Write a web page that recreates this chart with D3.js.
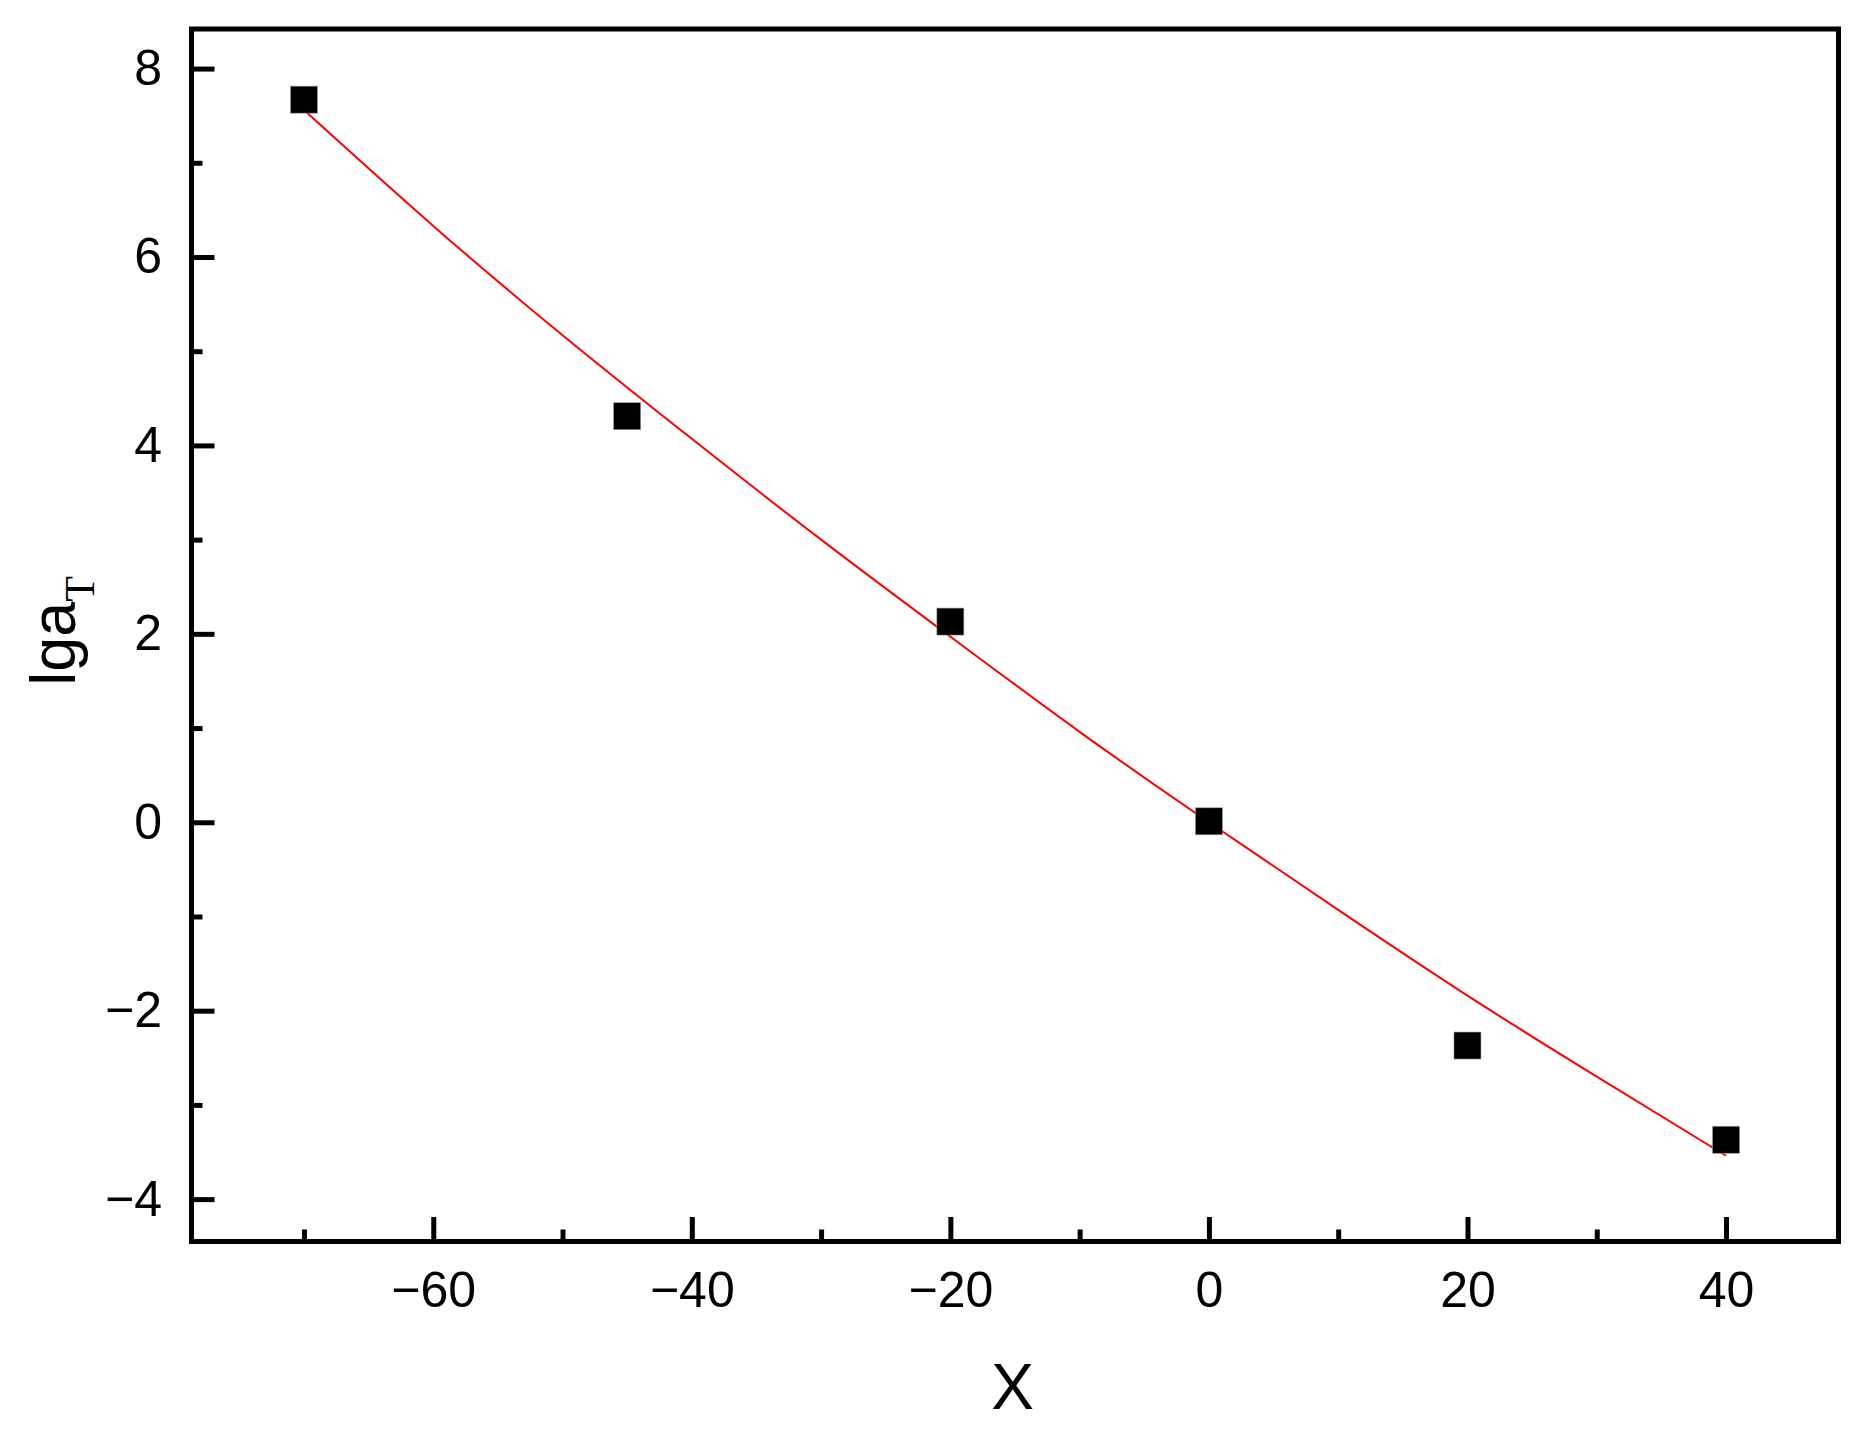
<!DOCTYPE html>
<html>
<head>
<meta charset="utf-8">
<script src="https://cdn.jsdelivr.net/npm/d3@7"></script>
<style>
  html, body { margin: 0; padding: 0; background: #fff; }
  svg { display: block; }
  text { font-family: "Liberation Sans", Arial, sans-serif; fill: #000; }
</style>
</head>
<body>
<svg id="chart" width="1866" height="1433"></svg>
<script>
// measured points
const xValues = [-70, -45, -20, 0, 20, 40];
const lgaT = [7.67, 4.31, 2.13, 0.01, -2.37, -3.37];

// red fitted curve
const fitX = [-70, -60, -50, -40, -30, -20, -10, 0, 10, 20, 30, 40];
const fitY = [7.56, 6.33, 5.17, 4.07, 3.00, 1.97, 0.96, 0, -0.93, -1.84, -2.70, -3.54];

const xTicks = [-60, -40, -20, 0, 20, 40];
const xMinor = [-70, -50, -30, -10, 10, 30];
const yTicks = [-4, -2, 0, 2, 4, 6, 8];
const yMinor = [-3, -1, 1, 3, 5, 7];

const plot = { left: 191.5, right: 1838.5, top: 29, bottom: 1241.5 };

const svg = d3.select("#chart");

const x = d3.scaleLinear().domain([-78.7, 48.7]).range([plot.left, plot.right]);
const y = d3.scaleLinear().domain([-4.45, 8.42]).range([plot.bottom, plot.top]);

const fmt = d => d3.format("d")(d);

// x axis - ticks point inward
svg.append("g")
  .attr("transform", `translate(0,${plot.bottom})`)
  .call(d3.axisBottom(x).tickValues(xTicks).tickSize(-24.5).tickSizeOuter(0).tickPadding(30).tickFormat(fmt));
svg.append("g")
  .attr("transform", `translate(0,${plot.bottom})`)
  .call(d3.axisBottom(x).tickValues(xMinor).tickSize(-12).tickSizeOuter(0).tickFormat(""));

// y axis
svg.append("g")
  .attr("transform", `translate(${plot.left},0)`)
  .call(d3.axisLeft(y).tickValues(yTicks).tickSize(-23).tickSizeOuter(0).tickPadding(29.5).tickFormat(fmt));
svg.append("g")
  .attr("transform", `translate(${plot.left},0)`)
  .call(d3.axisLeft(y).tickValues(yMinor).tickSize(-11).tickSizeOuter(0).tickFormat(""));

svg.selectAll(".domain").remove();
svg.selectAll(".tick line").attr("stroke", "#000").attr("stroke-width", 5);
svg.selectAll(".tick text")
  .attr("font-size", 50)
  .attr("font-family", "'Liberation Sans', Arial, sans-serif")
  .attr("fill", "#000");

// frame
svg.append("rect")
  .attr("x", plot.left)
  .attr("y", plot.top)
  .attr("width", plot.right - plot.left)
  .attr("height", plot.bottom - plot.top)
  .attr("fill", "none")
  .attr("stroke", "#000")
  .attr("stroke-width", 5);

// fit line
const fitData = fitX.map((v, i) => ({ x: v, y: fitY[i] }));
svg.append("path")
  .datum(fitData)
  .attr("fill", "none")
  .attr("stroke", "#ff0000")
  .attr("stroke-width", 2)
  .attr("d", d3.line().x(d => x(d.x)).y(d => y(d.y)).curve(d3.curveNatural));

// squares
const sq = 27;
svg.append("g")
  .selectAll("rect")
  .data(xValues.map((v, i) => ({ x: v, y: lgaT[i] })))
  .enter().append("rect")
  .attr("x", d => x(d.x) - sq / 2)
  .attr("y", d => y(d.y) - sq / 2)
  .attr("width", sq)
  .attr("height", sq)
  .attr("fill", "#000")
  .attr("stroke", "#999")
  .attr("stroke-width", 0.6);

// axis titles
svg.append("text")
  .attr("x", 1012.5)
  .attr("y", 1409)
  .attr("text-anchor", "middle")
  .attr("font-size", 64)
  .text("X");

const yLabel = svg.append("text")
  .attr("transform", "translate(75,631) rotate(-90)")
  .attr("text-anchor", "middle")
  .attr("font-size", 63);
yLabel.append("tspan").text("lga");
yLabel.append("tspan")
  .attr("dy", 19)
  .attr("font-size", 42)
  .attr("font-family", "'Liberation Serif', 'Times New Roman', serif")
  .text("T");
</script>
</body>
</html>
